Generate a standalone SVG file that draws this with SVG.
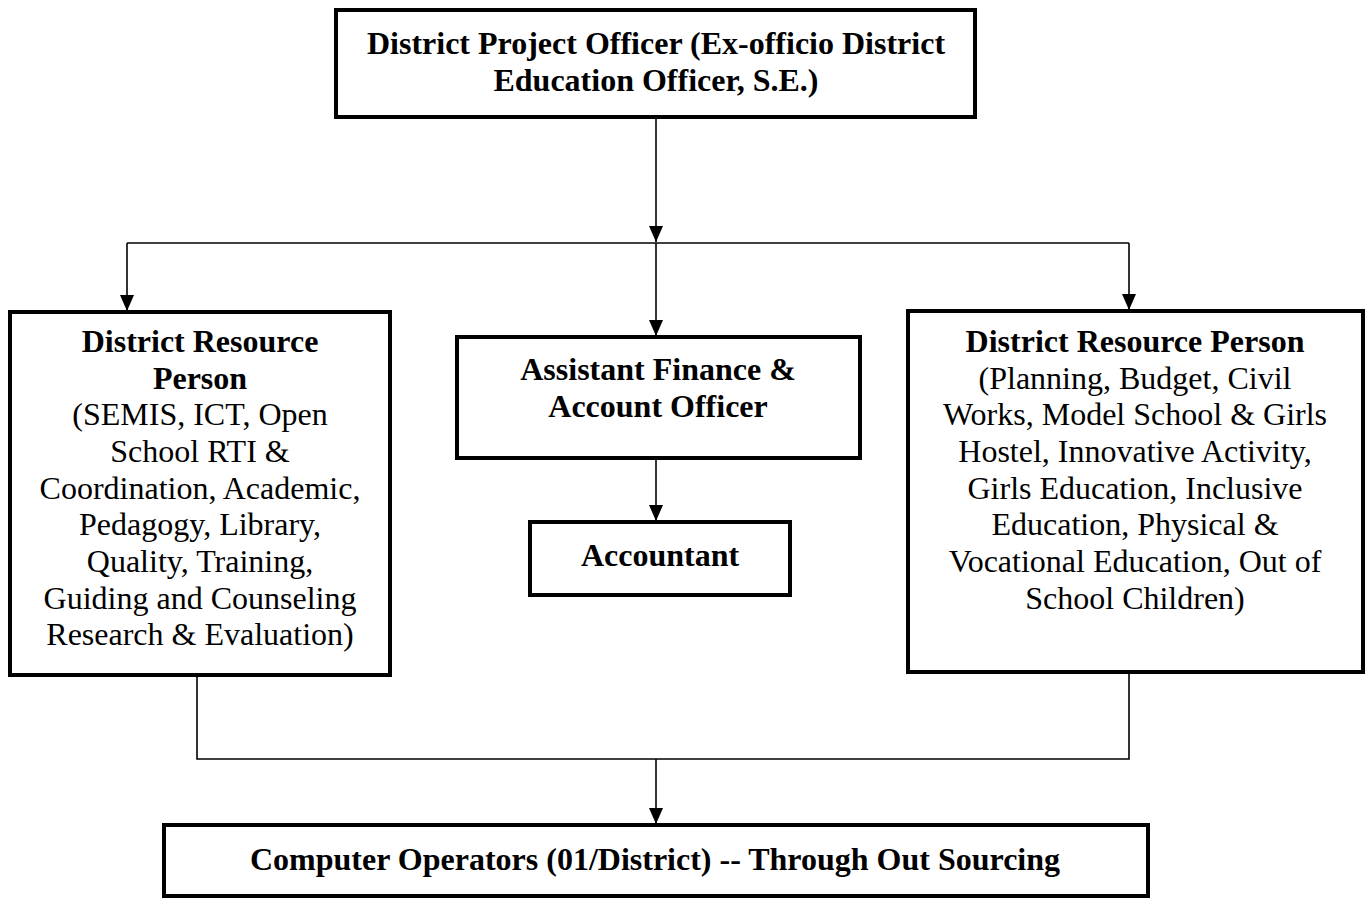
<svg xmlns="http://www.w3.org/2000/svg" width="1370" height="898" viewBox="0 0 1370 898">
  <style>
    .box { fill: #ffffff; stroke: #000000; stroke-width: 4; }
    .t { font-family: "Liberation Serif", "Times New Roman", serif; font-size: 32px; fill: #000000; text-anchor: middle; }
    .b { font-weight: bold; }
    .ln { fill: none; stroke: #000000; stroke-width: 1.6; }
  </style>
  <defs>
    <marker id="arr" viewBox="0 0 16 14" refX="16" refY="7" markerWidth="16" markerHeight="14" markerUnits="userSpaceOnUse" orient="auto">
      <path d="M0,0 L16,7 L0,14 z" fill="#000000"/>
    </marker>
  </defs>
  <rect width="1370" height="898" fill="#ffffff"/>

  <g id="connectors">
    <line class="ln" x1="656" y1="118" x2="656" y2="242" marker-end="url(#arr)"/>
    <polyline class="ln" points="127,243 1129,243"/>
    <line class="ln" x1="127" y1="243" x2="127" y2="311" marker-end="url(#arr)"/>
    <line class="ln" x1="656" y1="243" x2="656" y2="336" marker-end="url(#arr)"/>
    <line class="ln" x1="1129" y1="243" x2="1129" y2="310" marker-end="url(#arr)"/>
    <line class="ln" x1="656" y1="459" x2="656" y2="521" marker-end="url(#arr)"/>
    <polyline class="ln" points="197,677 197,759 1129,759 1129,673"/>
    <line class="ln" x1="656" y1="759" x2="656" y2="824" marker-end="url(#arr)"/>
  </g>

  <g id="dpo">
    <rect class="box" x="336" y="10" width="639" height="107"/>
    <text class="t b" x="656" y="54">District Project Officer (Ex-officio District</text>
    <text class="t b" x="656" y="91">Education Officer, S.E.)</text>
  </g>

  <g id="drp-left">
    <rect class="box" x="10" y="312" width="380" height="363"/>
    <text class="t b" x="200" y="352">District Resource</text>
    <text class="t b" x="200" y="389">Person</text>
    <text class="t" x="200" y="425">(SEMIS, ICT, Open</text>
    <text class="t" x="200" y="462">School RTI &amp;</text>
    <text class="t" x="200" y="499">Coordination, Academic,</text>
    <text class="t" x="200" y="535">Pedagogy, Library,</text>
    <text class="t" x="200" y="572">Quality, Training,</text>
    <text class="t" x="200" y="609">Guiding and Counseling</text>
    <text class="t" x="200" y="645">Research &amp; Evaluation)</text>
  </g>

  <g id="afao">
    <rect class="box" x="457" y="337" width="403" height="121"/>
    <text class="t b" x="658" y="380">Assistant Finance &amp;</text>
    <text class="t b" x="658" y="417">Account Officer</text>
  </g>

  <g id="accountant">
    <rect class="box" x="530" y="522" width="260" height="73"/>
    <text class="t b" x="660" y="566">Accountant</text>
  </g>

  <g id="drp-right">
    <rect class="box" x="908" y="311" width="455" height="361"/>
    <text class="t b" x="1135" y="352">District Resource Person</text>
    <text class="t" x="1135" y="389">(Planning, Budget, Civil</text>
    <text class="t" x="1135" y="425">Works, Model School &amp; Girls</text>
    <text class="t" x="1135" y="462">Hostel, Innovative Activity,</text>
    <text class="t" x="1135" y="499">Girls Education, Inclusive</text>
    <text class="t" x="1135" y="535">Education, Physical &amp;</text>
    <text class="t" x="1135" y="572">Vocational Education, Out of</text>
    <text class="t" x="1135" y="609">School Children)</text>
  </g>

  <g id="computer-operators">
    <rect class="box" x="164" y="825" width="984" height="71"/>
    <text class="t b" x="655" y="870">Computer Operators (01/District) -- Through Out Sourcing</text>
  </g>
</svg>
